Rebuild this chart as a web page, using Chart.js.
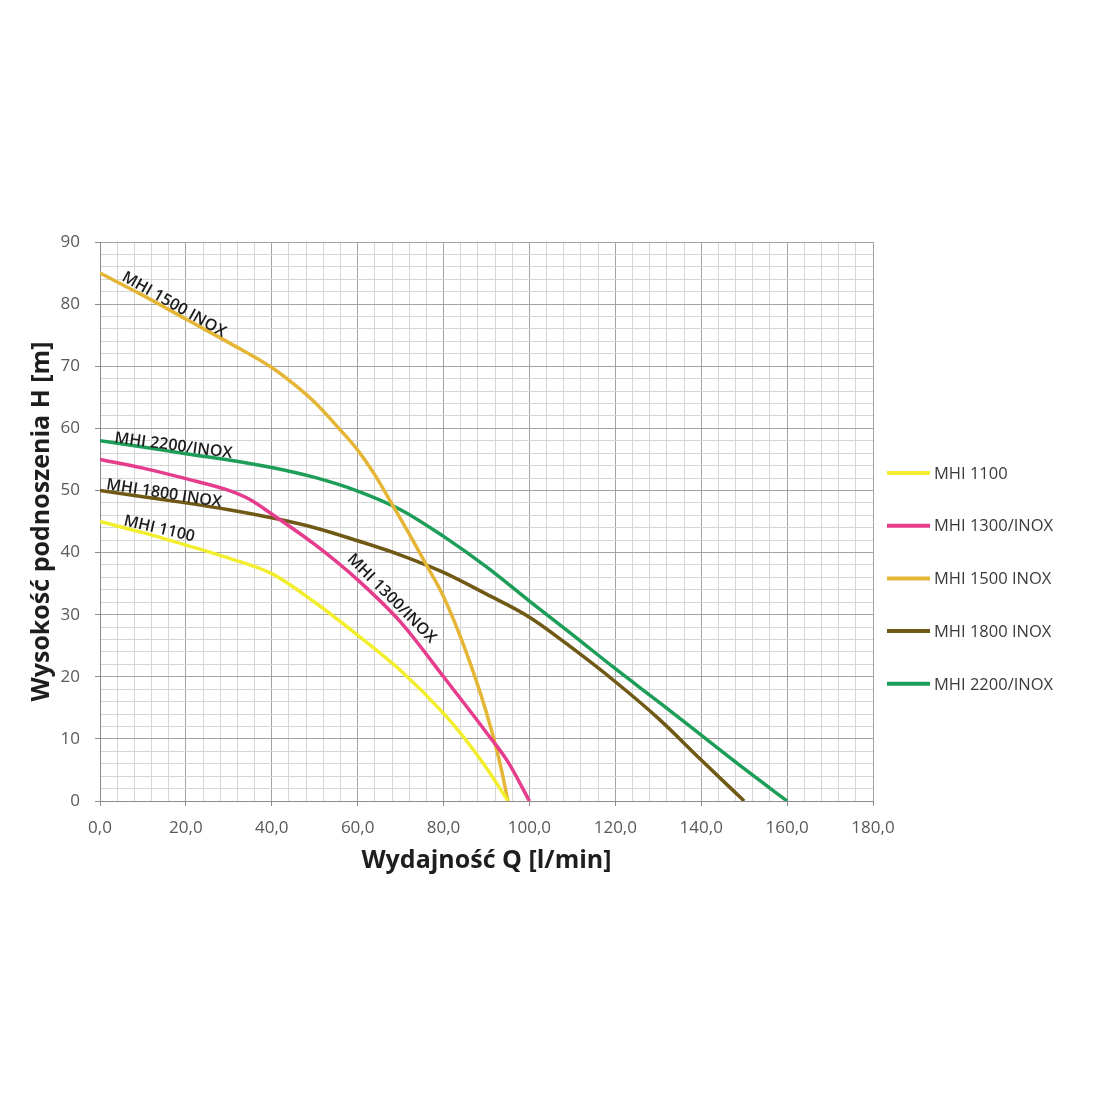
<!DOCTYPE html>
<html><head><meta charset="utf-8">
<script src="https://cdn.jsdelivr.net/npm/chart.js@4.4.1/dist/chart.umd.min.js"></script>
<style>html,body{margin:0;padding:0;background:#fff;}#wrap{width:1111px;height:1115px;}</style>
</head><body><div id="wrap"><canvas id="c" width="1111" height="1115"></canvas></div>
<script>
// ---- data ----
const seriesNames = ['MHI 1100', 'MHI 1300/INOX', 'MHI 1500 INOX', 'MHI 1800 INOX', 'MHI 2200/INOX'];

const q1100 = [0, 10, 20, 30, 40, 50, 60, 70, 80, 85, 90, 95];
const h1100 = [45, 43.2, 41.2, 39.1, 36.6, 32, 26.7, 21, 14.1, 10, 5.3, 0];

const q1300 = [0, 10, 20, 30, 35, 40, 50, 60, 70, 80, 90, 95, 100];
const h1300 = [55, 53.6, 51.9, 50, 48.5, 46.2, 41.3, 35.6, 28.8, 20, 11, 6.3, 0];

const q1500 = [0, 10, 20, 30, 40, 45, 50, 56, 60, 64, 68, 72, 76, 80, 85, 90, 93, 95];
const h1500 = [85, 81.4, 77.6, 73.8, 69.8, 67.2, 64.2, 59.7, 56.5, 52.5, 47.8, 43, 38, 32.9, 24.5, 14.2, 6.5, 0];

const q1800 = [0, 10, 20, 30, 40, 50, 60, 70, 80, 90, 100, 110, 120, 130, 140, 150];
const h1800 = [50, 49, 48, 46.9, 45.6, 44, 41.9, 39.6, 36.8, 33.3, 29.6, 24.6, 19.2, 13.3, 6.6, 0];

const q2200 = [0, 10, 20, 30, 40, 50, 60, 70, 80, 90, 100, 110, 120, 130, 140, 150, 160];
const h2200 = [58, 57, 55.9, 54.9, 53.7, 52.1, 49.9, 46.9, 42.6, 37.7, 32.2, 26.8, 21.3, 16, 10.6, 5.2, 0];

const xTickValues = [0, 20, 40, 60, 80, 100, 120, 140, 160, 180];
const xTickLabels = ['0,0', '20,0', '40,0', '60,0', '80,0', '100,0', '120,0', '140,0', '160,0', '180,0'];
const yTickValues = [0, 10, 20, 30, 40, 50, 60, 70, 80, 90];
const yTickLabels = ['0', '10', '20', '30', '40', '50', '60', '70', '80', '90'];

// curve annotations (data position + rotation)
const curveLabelText = ['MHI 1500 INOX', 'MHI 2200/INOX', 'MHI 1800 INOX', 'MHI 1100', 'MHI 1300/INOX'];
const curveLabelQ = [17.2, 17.1, 14.9, 13.8, 67.9];
const curveLabelH = [79.9, 57.2, 49.5, 43.8, 32.6];
const curveLabelAngle = [29.5, 7.5, 9, 13, 45];

// ---- styles ----
const colors = ['#f2ee2e', '#e63c8c', '#e5b535', '#705914', '#1d9e58'];
const FONT = "'Open Sans', 'DejaVu Sans', sans-serif";

const pairs = (q, h) => q.map((v, i) => ({x: v, y: h[i]}));
const seriesQ = [q1100, q1300, q1500, q1800, q2200];
const seriesH = [h1100, h1300, h1500, h1800, h2200];

const datasets = seriesNames.map((n, i) => ({
  label: n,
  data: pairs(seriesQ[i], seriesH[i]),
  borderColor: colors[i],
  backgroundColor: colors[i],
  borderWidth: 3.5,
  pointRadius: 0,
  fill: false,
  cubicInterpolationMode: 'monotone'
}));

const MAJOR = '#a3a3a3', MINOR = '#d6d6d6';

const annotate = {
  id: 'annotate',
  afterDatasetsDraw(chart) {
    const {ctx, scales: {x, y}, chartArea} = chart;
    ctx.save();
    ctx.fillStyle = '#1c1c1c';
    ctx.font = "600 16px " + FONT;
    ctx.textAlign = 'center';
    ctx.textBaseline = 'middle';
    curveLabelText.forEach((t, i) => {
      ctx.save();
      ctx.translate(x.getPixelForValue(curveLabelQ[i]), y.getPixelForValue(curveLabelH[i]));
      ctx.rotate(curveLabelAngle[i] * Math.PI / 180);
      ctx.fillText(t, 0, 0);
      ctx.restore();
    });
    ctx.restore();
    // legend
    ctx.save();
    const lx = chartArea.right + 14;
    const spacing = 52.7;
    const y0 = 473;
    ctx.font = "16.5px " + FONT;
    ctx.textBaseline = 'middle';
    ctx.textAlign = 'left';
    seriesNames.forEach((n, i) => {
      const yy = y0 + i * spacing;
      ctx.strokeStyle = colors[i];
      ctx.lineWidth = 4;
      ctx.beginPath();
      ctx.moveTo(lx, yy);
      ctx.lineTo(lx + 43, yy);
      ctx.stroke();
      ctx.fillStyle = '#3a3a3a';
      ctx.fillText(n, lx + 47, yy + 1);
    });
    ctx.restore();
  }
};

new Chart(document.getElementById('c'), {
  type: 'line',
  data: {datasets},
  plugins: [annotate],
  options: {
    responsive: false,
    animation: false,
    events: [],
    layout: {padding: {left: 0, top: 242, right: 238, bottom: 234}},
    plugins: {legend: {display: false}, tooltip: {enabled: false}},
    scales: {
      x: {
        type: 'linear', min: 0, max: 180,
        afterFit: s => { s.height = 80; },
        ticks: {
          stepSize: 4, autoSkip: false, maxRotation: 0, padding: 12,
          color: '#595959', font: {family: FONT, size: 17},
          callback: v => { const k = xTickValues.indexOf(v); return k >= 0 ? xTickLabels[k] : ''; }
        },
        grid: {
          color: c => (c.tick && c.tick.value % 20 === 0) ? MAJOR : MINOR,
          tickColor: c => (c.tick && c.tick.value % 20 === 0) ? '#8c8c8c' : 'rgba(0,0,0,0)',
          tickLength: 5, lineWidth: 1
        },
        border: {color: '#8c8c8c', width: 1},
        title: {display: true, text: 'Wydajność Q [l/min]', color: '#1e1e1e',
          font: {family: FONT, size: 25, weight: 'bold'}, padding: {top: 0, bottom: 5}}
      },
      y: {
        type: 'linear', min: 0, max: 90,
        afterFit: s => { s.width = 100; },
        ticks: {
          stepSize: 2, autoSkip: false, padding: 15,
          color: '#595959', font: {family: FONT, size: 17},
          callback: v => { const k = yTickValues.indexOf(v); return k >= 0 ? yTickLabels[k] : ''; }
        },
        grid: {
          color: c => (c.tick && c.tick.value % 10 === 0) ? MAJOR : MINOR,
          tickColor: c => (c.tick && c.tick.value % 10 === 0) ? '#8c8c8c' : 'rgba(0,0,0,0)',
          tickLength: 5, lineWidth: 1
        },
        border: {color: '#8c8c8c', width: 1},
        title: {display: true, text: 'Wysokość podnoszenia H [m]', color: '#1e1e1e',
          font: {family: FONT, size: 25, weight: 'bold'}, padding: {top: 27, bottom: 0}}
      }
    }
  }
});
</script></body></html>
